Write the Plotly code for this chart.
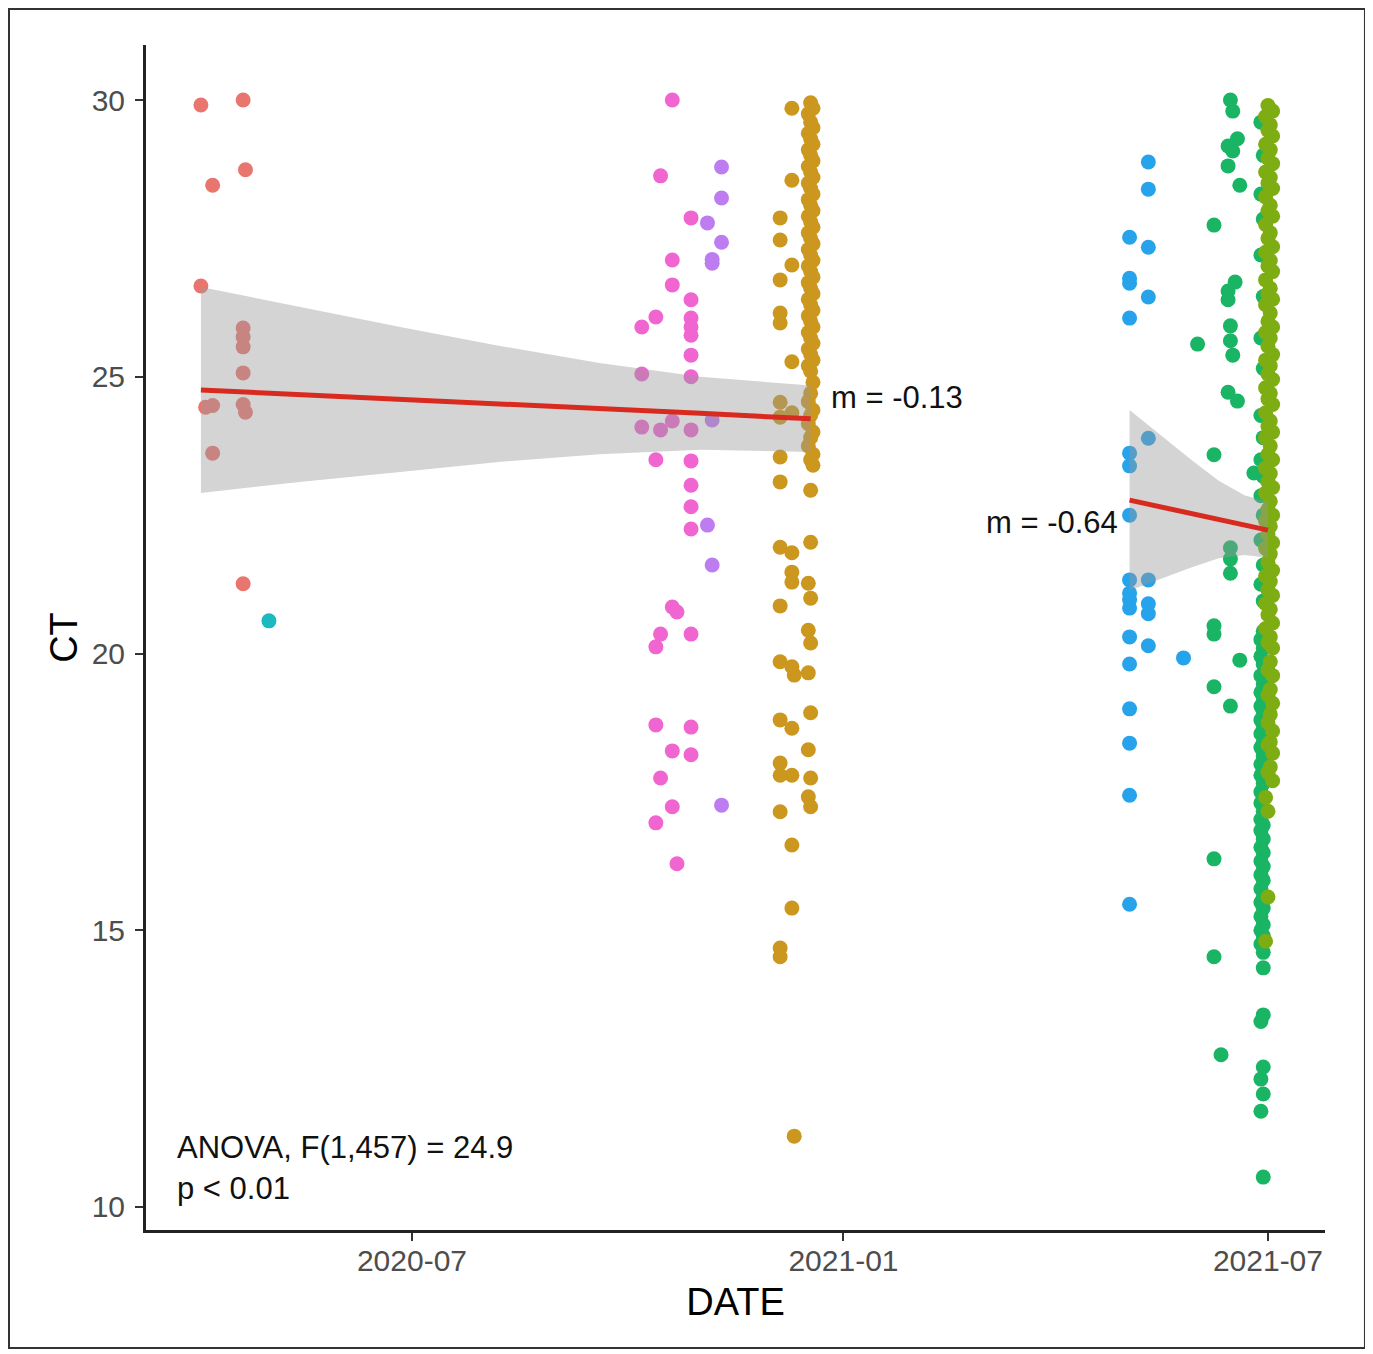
import pandas as pd
import plotly.graph_objects as go

# ---------------- data (date, CT values) per lineage group ----------------
red_pts = [
    ("2020-04-02", [29.91, 26.64]),
    ("2020-04-04", [24.45]),
    ("2020-04-07", [28.46, 24.48, 23.62]),
    ("2020-04-20", [30.0, 25.88, 25.72, 25.54, 25.07, 24.5, 21.26]),
    ("2020-04-21", [28.74, 24.36]),
]
cyan_pts = [("2020-05-01", [20.59])]
pink_pts = [
    ("2020-10-07", [25.9, 25.05, 24.09]),
    ("2020-10-13", [26.08, 23.5, 20.12, 18.71, 16.94]),
    ("2020-10-15", [28.63, 24.04, 20.35, 17.75]),
    ("2020-10-20", [30.0, 27.11, 26.66, 24.2, 20.84, 18.24, 17.23]),
    ("2020-10-22", [20.75, 16.2]),
    ("2020-10-28", [27.87, 26.39, 26.06, 25.9, 25.75, 25.39, 25.0, 24.04, 23.48,
                    23.04, 22.65, 22.25, 20.35, 18.67, 18.17]),
]
purple_pts = [
    ("2020-11-04", [27.78, 22.32]),
    ("2020-11-06", [27.05, 27.12, 24.22, 21.6]),
    ("2020-11-10", [28.79, 28.23, 27.43, 17.26]),
]
gold_pts = [
    ("2020-12-05", [27.87, 27.47, 26.75, 26.15, 25.97, 24.54, 24.27, 23.55, 23.1, 21.92,
                    20.86, 19.85, 18.8, 18.02, 17.8, 17.14, 14.68, 14.52]),
    ("2020-12-10", [29.85, 28.55, 27.02, 25.27, 24.35, 21.82, 21.47, 21.29, 19.76, 18.65,
                    17.8, 16.54, 15.4]),
    ("2020-12-11", [19.61, 11.28]),
    ("2020-12-17", [29.75, 29.4, 29.1, 28.8, 28.5, 28.2, 27.9, 27.6, 27.3, 27.0, 26.7, 26.4,
                    26.1, 25.8, 25.5, 25.2, 24.55, 24.15, 23.75, 21.27, 20.42, 19.65, 18.26,
                    17.41]),
    ("2020-12-18", [29.95, 29.6, 29.3, 29.0, 28.7, 28.4, 28.1, 27.8, 27.5, 27.2, 26.9, 26.6,
                    26.3, 26.0, 25.7, 25.4, 25.1, 24.7, 24.3, 23.9, 23.5, 22.95, 22.01, 21.0,
                    20.19, 18.93, 17.75, 17.23]),
    ("2020-12-19", [29.85, 29.5, 29.2, 28.9, 28.6, 28.3, 28.0, 27.7, 27.4, 27.1, 26.8, 26.5,
                    26.2, 25.9, 25.6, 25.3, 24.9, 24.4, 24.0, 23.6, 23.4]),
]
blue_pts = [
    ("2021-05-03", [27.52, 26.78, 26.69, 26.06, 23.62, 23.39, 22.5, 21.33, 21.09, 20.97,
                    20.82, 20.3, 19.81, 19.0, 18.38, 17.44, 15.47]),
    ("2021-05-11", [28.88, 28.39, 27.34, 26.44, 23.89, 21.33, 20.9, 20.72, 20.14]),
    ("2021-05-26", [19.92]),
]
green_pts = [
    ("2021-06-01", [25.59]),
    ("2021-06-08", [27.74, 23.59, 20.5, 20.35, 19.4, 16.29, 14.52]),
    ("2021-06-11", [12.75]),
    ("2021-06-14", [29.17, 28.81, 26.55, 26.39, 24.72]),
    ("2021-06-15", [30.0, 25.92, 25.65, 21.91, 21.71, 21.45, 19.05]),
    ("2021-06-16", [29.8, 29.08, 25.39]),
    ("2021-06-17", [26.71]),
    ("2021-06-18", [29.3, 24.56]),
    ("2021-06-19", [28.46, 19.88]),
    ("2021-06-25", [23.26]),
    ("2021-06-28", [29.6, 28.3, 27.2, 25.7, 24.3, 23.5, 22.85, 22.05, 21.25,
                    20.25, 19.95, 19.6, 19.3, 19.05, 18.8, 18.55, 18.3, 18.0, 17.8, 17.5,
                    17.3, 17.0, 16.8, 16.5, 16.25, 16.0, 15.75, 15.5, 15.25, 15.0, 14.75,
                    13.35, 12.31, 11.73]),
    ("2021-06-29", [29.0, 27.85, 26.45, 25.15, 23.9, 23.2, 22.5, 21.6, 20.95,
                    20.4, 20.1, 19.8, 19.45, 19.2, 18.95, 18.7, 18.4, 18.15, 17.9, 17.65,
                    17.4, 17.15, 16.9, 16.65, 16.4, 16.15, 15.9, 15.6, 15.4, 15.1, 14.9,
                    14.6, 14.32, 13.47, 12.53, 12.04, 10.54]),
]
olive_pts = [
    ("2021-06-30", [29.7, 29.2, 28.7, 28.25, 27.75, 27.25, 26.75, 26.3, 25.8, 25.3, 24.8,
                    24.35, 23.9, 23.35, 22.9, 22.4, 21.9, 21.4, 20.9, 20.45, 17.4, 14.8]),
    ("2021-07-01", [29.9, 29.45, 28.95, 28.5, 28.0, 27.5, 27.0, 26.5, 26.0, 25.55, 25.05,
                    24.6, 24.1, 23.6, 23.1, 22.6, 22.15, 21.65, 21.15, 20.7, 20.2, 19.7,
                    19.25, 18.75, 18.35, 17.85, 17.15, 15.6]),
    ("2021-07-02", [29.55, 29.1, 28.6, 28.1, 27.6, 27.1, 26.6, 26.15, 25.7, 25.2, 24.7,
                    24.2, 23.75, 23.25, 22.75, 22.3, 21.8, 21.3, 20.8, 20.3, 19.85, 19.35,
                    18.9, 18.4, 17.95]),
    ("2021-07-03", [29.8, 29.35, 28.85, 28.4, 27.9, 27.35, 26.9, 26.4, 25.9, 25.4, 24.95,
                    24.5, 24.0, 23.5, 23.0, 22.5, 22.0, 21.5, 21.05, 20.55, 20.1, 19.6,
                    19.1, 18.6, 18.2, 17.7]),
]

# regression fits
fit1_date = ["2020-04-02", "2020-05-14", "2020-06-26", "2020-08-07", "2020-09-19", "2020-11-01", "2020-12-18"]
fit1_ct = [24.76, 24.68, 24.59, 24.51, 24.42, 24.34, 24.24]
fit1_hi = [26.62, 26.26, 25.90, 25.56, 25.25, 25.00, 24.84]
fit1_lo = [22.90, 23.10, 23.28, 23.46, 23.60, 23.68, 23.64]

fit2_date = ["2021-05-03", "2021-05-16", "2021-05-29", "2021-06-10", "2021-06-21", "2021-07-01"]
fit2_ct = [22.77, 22.65, 22.53, 22.42, 22.32, 22.23]
fit2_hi = [24.40, 23.95, 23.51, 23.12, 22.86, 22.74]
fit2_lo = [21.14, 21.35, 21.55, 21.72, 21.78, 21.73]

x_ticks = ["2020-07-01", "2021-01-01", "2021-07-01"]
y_ticks = [10, 15, 20, 25, 30]

groups = [
    (red_pts, "#E8766E"),
    (cyan_pts, "#1DB9C0"),
    (pink_pts, "#F065D0"),
    (purple_pts, "#BD7DF0"),
    (gold_pts, "#CC971E"),
    (blue_pts, "#26A3EA"),
    (green_pts, "#19B565"),
    (olive_pts, "#7DAD12"),
]


def expand(pts):
    xs, ys = [], []
    for d, vals in pts:
        xs += [d] * len(vals)
        ys += vals
    return pd.to_datetime(xs), ys


fig = go.Figure()
for pts, col in groups:
    xs, ys = expand(pts)
    fig.add_trace(go.Scatter(x=xs, y=ys, mode="markers",
                             marker=dict(size=15, color=col, line=dict(width=0)),
                             showlegend=False, hoverinfo="skip"))

for fd, fc, fh, fl in [(fit1_date, fit1_ct, fit1_hi, fit1_lo),
                       (fit2_date, fit2_ct, fit2_hi, fit2_lo)]:
    bx = list(pd.to_datetime(fd)) + list(pd.to_datetime(fd))[::-1]
    by = fh + fl[::-1]
    fig.add_trace(go.Scatter(x=bx, y=by, mode="lines", fill="toself",
                             fillcolor="rgba(153,153,153,0.42)", line=dict(width=0),
                             showlegend=False, hoverinfo="skip"))
    fig.add_trace(go.Scatter(x=pd.to_datetime(fd), y=fc, mode="lines",
                             line=dict(color="#D92A1F", width=5),
                             showlegend=False, hoverinfo="skip"))

FONT = "Liberation Sans, Arial, sans-serif"
ann_font = dict(family=FONT, size=31, color="#111111")
fig.add_annotation(x="2020-12-26", y=24.63, text="m = -0.13", showarrow=False,
                   xanchor="left", yanchor="middle", font=ann_font)
fig.add_annotation(x="2021-04-29", y=22.36, text="m = -0.64", showarrow=False,
                   xanchor="right", yanchor="middle", font=ann_font)
fig.add_annotation(x="2020-03-22", y=11.07, text="ANOVA, F(1,457) = 24.9", showarrow=False,
                   xanchor="left", yanchor="middle", font=ann_font)
fig.add_annotation(x="2020-03-22", y=10.34, text="p < 0.01", showarrow=False,
                   xanchor="left", yanchor="middle", font=ann_font)

# outer frame around the whole picture
fig.add_shape(type="rect", xref="paper", yref="paper",
              x0=-0.1162, x1=1.0339, y0=-0.0996, y1=1.0304,
              line=dict(color="#333333", width=2))

axis_common = dict(showgrid=False, zeroline=False, showline=True, linecolor="#222222",
                   linewidth=3, ticks="outside", ticklen=8, tickwidth=2, tickcolor="#333333",
                   tickfont=dict(family=FONT, size=30, color="#4D4D4D"))

fig.update_layout(
    width=1365, height=1346, autosize=False,
    margin=dict(l=138, r=48, t=37, b=124),
    paper_bgcolor="white", plot_bgcolor="white",
    xaxis=dict(range=["2020-03-09 14:00", "2021-07-25 08:00"], tickvals=x_ticks,
               tickformat="%Y-%m", ticklabelstandoff=-6,
               title=dict(text="DATE", font=dict(family=FONT, size=38, color="#000000"),
                          standoff=13),
               **axis_common),
    yaxis=dict(range=[9.584, 30.994], tickvals=y_ticks, ticklabelstandoff=4,
               title=dict(text="CT", font=dict(family=FONT, size=38, color="#000000"),
                          standoff=3),
               **axis_common),
)

fig.write_html("out.html")
